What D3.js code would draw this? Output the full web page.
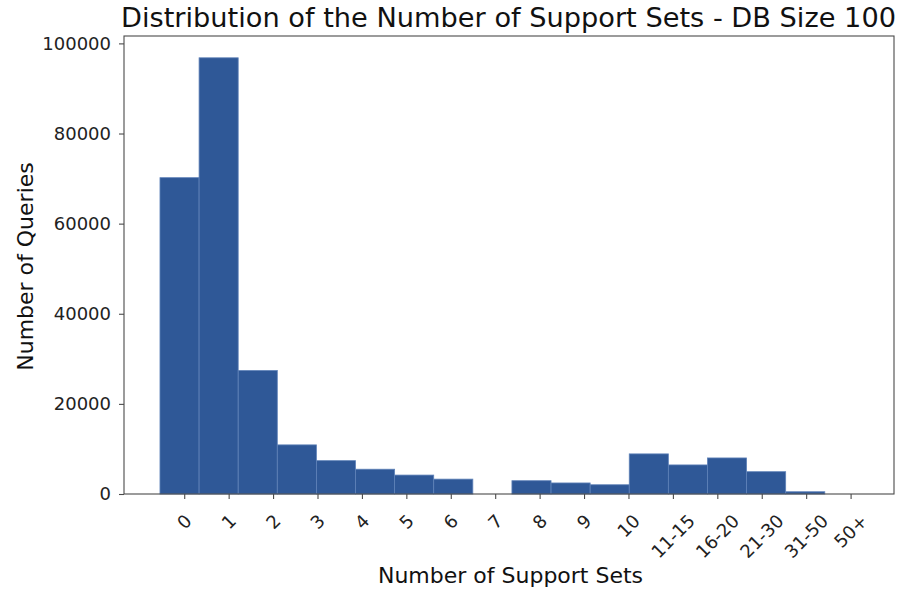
<!DOCTYPE html>
<html>
<head>
<meta charset="utf-8">
<script src="https://cdn.jsdelivr.net/npm/d3@7"></script>
<style>
  html, body { margin: 0; padding: 0; background: #fff; }
  svg { display: block; font-family: "DejaVu Sans", sans-serif; }
</style>
</head>
<body>
<svg id="chart" width="906" height="589"></svg>
<script>
// ---- data ----
const binIndex = [0,1,2,3,4,5,6,7,8,9,10,11,12,13,14,15,16,17];
const binCounts = [70200, 96800, 27400, 10900, 7400, 5500, 4200, 3300, 0, 2950, 2450, 2050, 8900, 6450, 8000, 4950, 500, 0];
const tickLabels = ["0","1","2","3","4","5","6","7","8","9","10","11-15","16-20","21-30","31-50","50+"];
const yTicks = [0, 20000, 40000, 60000, 80000, 100000];
const titleText = "Distribution of the Number of Support Sets - DB Size 100";
const xLabelText = "Number of Support Sets";
const yLabelText = "Number of Queries";

// ---- layout ----
const W = 906, H = 589;
const plot = { left: 124, right: 894, top: 36, bottom: 494 };
const svg = d3.select("#chart");

const x = d3.scaleLinear().domain([-0.92, 18.77]).range([plot.left, plot.right]);
const y = d3.scaleLinear().domain([0, d3.max(binCounts) * 1.05]).range([plot.bottom, plot.top]);
const tickPos = d3.scalePoint().domain(tickLabels).range([x(0.62), x(0.62 + 15 * 1.136)]);

const barFill = "#2f5897";
const barEdge = "#5f82b8";
const spineColor = "#4a4a4a";

// bars
svg.append("g").selectAll("rect")
  .data(binIndex)
  .join("rect")
  .attr("x", d => x(d))
  .attr("width", d => x(d + 1) - x(d))
  .attr("y", d => y(binCounts[d]))
  .attr("height", d => y(0) - y(binCounts[d]))
  .attr("fill", barFill)
  .attr("stroke", d => binCounts[d] > 0 ? barEdge : "none")
  .attr("stroke-width", 0.8);

// spines
svg.append("rect")
  .attr("x", plot.left).attr("y", plot.top)
  .attr("width", plot.right - plot.left).attr("height", plot.bottom - plot.top)
  .attr("fill", "none").attr("stroke", spineColor).attr("stroke-width", 1.1);

// y axis
const yAxis = d3.axisLeft(y).tickValues(yTicks).tickSize(5).tickPadding(8).tickFormat(d3.format("d"));
const gy = svg.append("g").attr("transform", `translate(${plot.left},0)`).call(yAxis);
gy.select(".domain").remove();
gy.selectAll(".tick line").attr("stroke", spineColor).attr("stroke-width", 1.1);
gy.selectAll(".tick text").attr("font-size", 18).attr("fill", "#222")
  .attr("font-family", "DejaVu Sans, sans-serif");

// x axis (ticks only, labels rotated manually)
const xAxis = d3.axisBottom(tickPos).tickSize(5).tickFormat("");
const gx = svg.append("g").attr("transform", `translate(0,${plot.bottom})`).call(xAxis);
gx.select(".domain").remove();
gx.selectAll(".tick line").attr("stroke", spineColor).attr("stroke-width", 1.1);

const labelTop = 513;
const lab = svg.append("g").selectAll("text")
  .data(tickLabels)
  .join("text")
  .attr("font-size", 18)
  .attr("fill", "#222")
  .attr("text-anchor", "middle")
  .attr("dominant-baseline", "central")
  .text(d => d);
lab.each(function(d) {
  const w = this.getComputedTextLength();
  const h = 13;
  const half = (w + h) * Math.SQRT1_2 / 2;
  d3.select(this).attr("transform", `translate(${tickPos(d)},${labelTop + half}) rotate(-45)`);
});

// title
svg.append("text")
  .attr("x", (plot.left + plot.right) / 2 - 0.5)
  .attr("y", 27)
  .attr("text-anchor", "middle")
  .attr("font-size", 26.6)
  .attr("fill", "#111")
  .attr("textLength", 775)
  .attr("lengthAdjust", "spacingAndGlyphs")
  .text(titleText);

// x label
svg.append("text")
  .attr("x", 510.5)
  .attr("y", 583)
  .attr("text-anchor", "middle")
  .attr("font-size", 22)
  .attr("fill", "#111")
  .text(xLabelText);

// y label
svg.append("text")
  .attr("transform", `translate(33,266.5) rotate(-90)`)
  .attr("text-anchor", "middle")
  .attr("font-size", 22)
  .attr("fill", "#111")
  .text(yLabelText);
</script>
</body>
</html>
